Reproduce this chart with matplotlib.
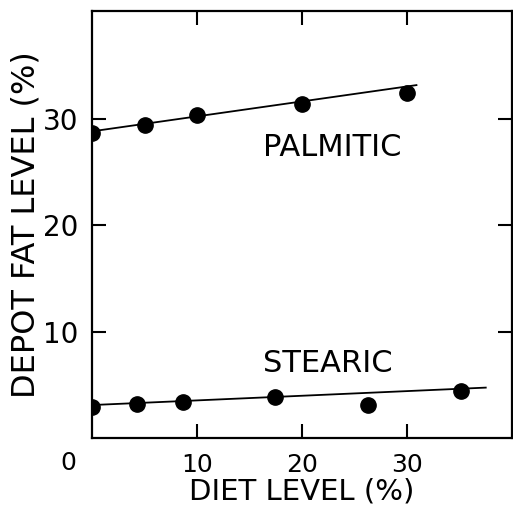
import matplotlib
matplotlib.use("Agg")
import matplotlib.pyplot as plt

# Data
palmitic_x = [0, 5, 10, 20, 30]
palmitic_y = [28.7, 29.4, 30.4, 31.45, 32.45]
palmitic_fit_x = [0, 30.9]
palmitic_fit_y = [28.85, 33.2]

stearic_x = [0, 4.3, 8.7, 17.4, 26.3, 35.1]
stearic_y = [2.9, 3.17, 3.42, 3.9, 3.1, 4.4]
stearic_fit_x = [0, 37.5]
stearic_fit_y = [3.1, 4.74]

xticks = [10, 20, 30]
yticks = [10, 20, 30]
xtick_labels = ["10", "20", "30"]
ytick_labels = ["10", "20", "30"]

plt.rcParams["font.family"] = ["DejaVu Sans"]

fig = plt.figure(figsize=(5.13, 5.07), dpi=100)
ax = fig.add_axes([92 / 513, 69 / 507, 420 / 513, 427.3 / 507])

ax.plot(palmitic_fit_x, palmitic_fit_y, color="black", lw=1.3)
ax.plot(stearic_fit_x, stearic_fit_y, color="black", lw=1.3)
ax.plot(palmitic_x, palmitic_y, "o", color="black", ms=11)
ax.plot(stearic_x, stearic_y, "o", color="black", ms=11)

ax.set_xlim(0, 40)
ax.set_ylim(0, 40.2)
ax.set_xticks(xticks)
ax.set_xticklabels(xtick_labels)
ax.set_yticks(yticks)
ax.set_yticklabels(ytick_labels)
ax.tick_params(direction="in", length=10, width=1.5, top=True, right=True)
ax.tick_params(axis="x", pad=11, labelsize=18)
ax.tick_params(axis="y", pad=10, labelsize=20)
for s in ax.spines.values():
    s.set_linewidth(1.6)

ax.text(-2.3, -1.2, "0", fontsize=18, ha="center", va="top", clip_on=False)

ax.text(22.9, 27.3, "PALMITIC", fontsize=22, ha="center", va="center")
ax.text(22.5, 7.05, "STEARIC", fontsize=22, ha="center", va="center")

ax.set_xlabel("DIET LEVEL (%)", fontsize=21, labelpad=0)
ax.set_ylabel("DEPOT FAT LEVEL (%)", fontsize=23, labelpad=1)

fig.savefig("out.png", dpi=100)
